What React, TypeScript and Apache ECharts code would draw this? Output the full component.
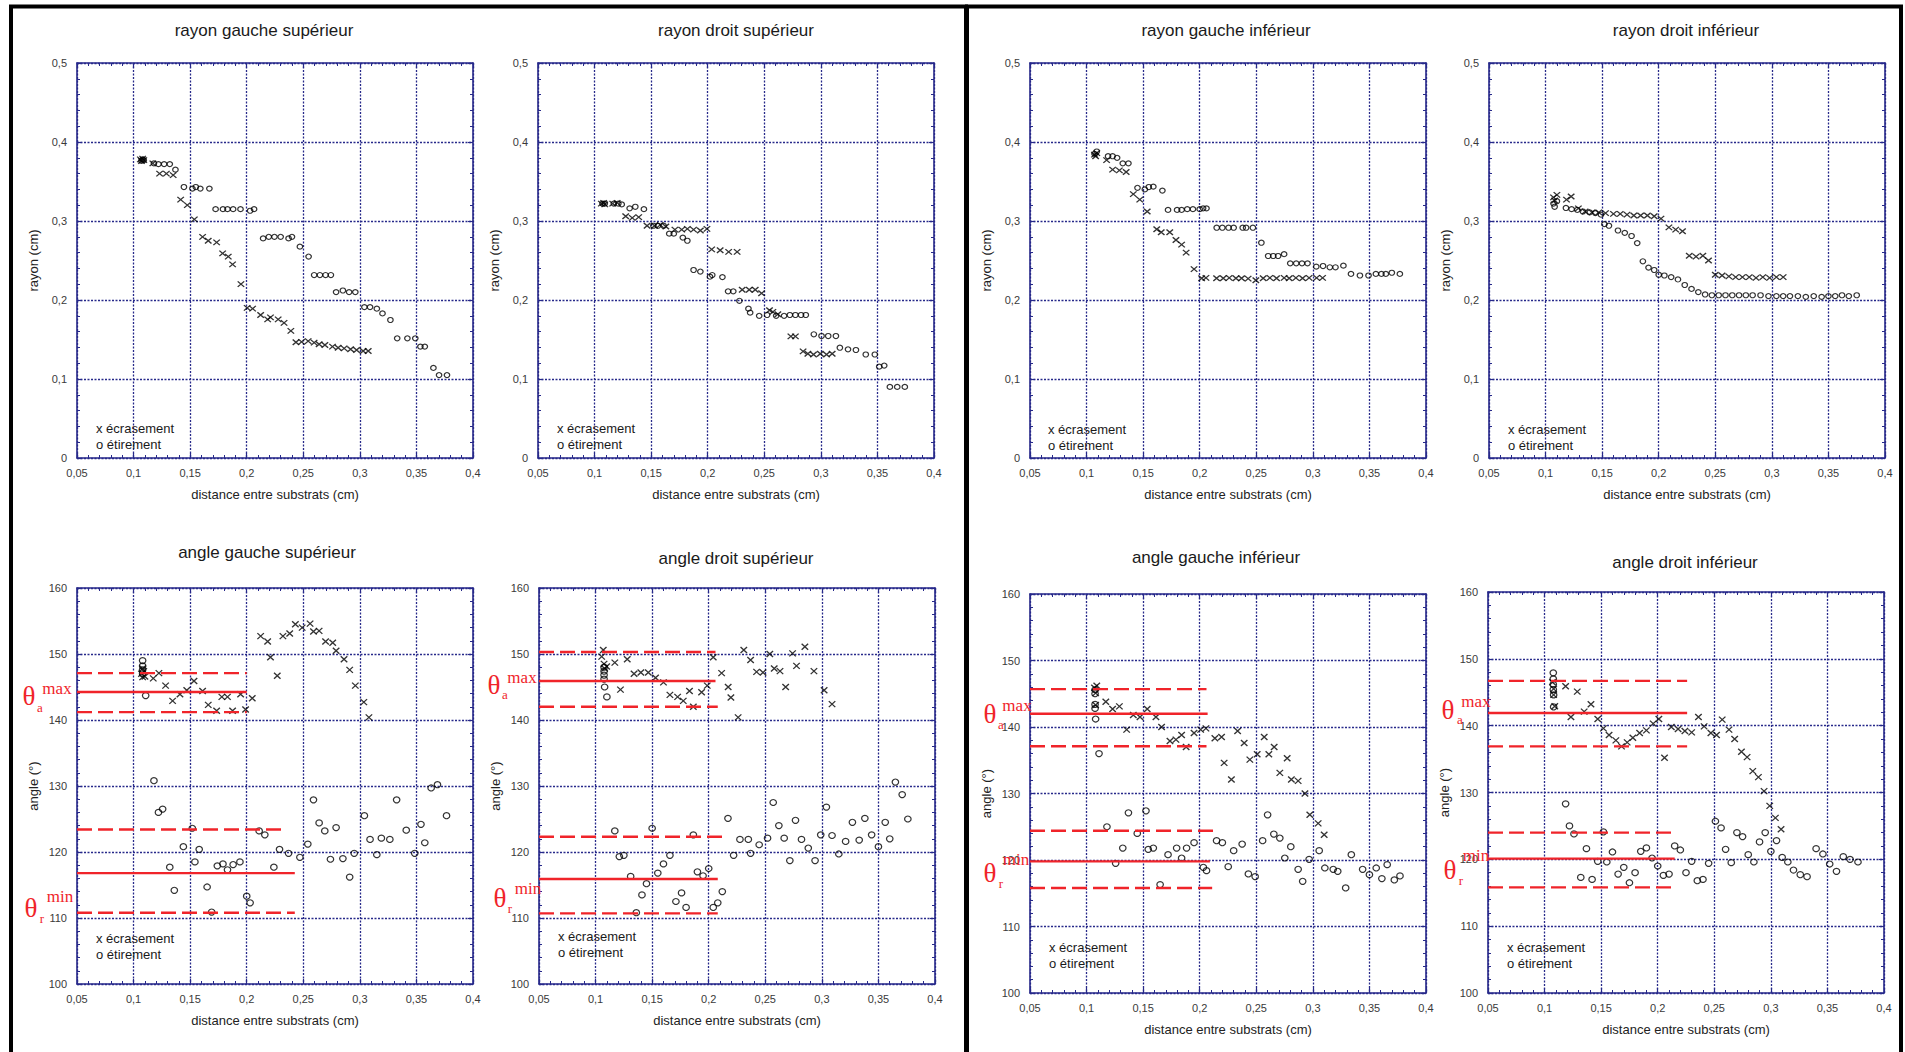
import React, { useEffect, useRef } from "react";
import * as echarts from "echarts";

type P = [number, number];

// ---------- tick / axis texts ----------
const xAxisName = "distance entre substrats (cm)";
const rayonAxisName = "rayon (cm)";
const angleAxisName = "angle (°)";
const legendEcrasement = "x écrasement";
const legendEtirement = "o étirement";
const titles = [
  "rayon gauche supérieur",
  "rayon droit supérieur",
  "rayon gauche inférieur",
  "rayon droit inférieur",
  "angle gauche supérieur",
  "angle droit supérieur",
  "angle gauche inférieur",
  "angle droit inférieur",
];

// ---------- rayon gauche supérieur ----------
const rgsEcrasement: P[] = [[0.106,0.378],[0.107,0.376],[0.108,0.379],[0.109,0.377],[0.117,0.373],[0.123,0.360],[0.129,0.360],[0.135,0.358],[0.1416,0.327],[0.1475,0.320],[0.1537,0.302],[0.161,0.280],[0.166,0.275],[0.1734,0.273],[0.1787,0.259],[0.1837,0.255],[0.1875,0.245],[0.1949,0.220],[0.2004,0.190],[0.2052,0.189],[0.2123,0.181],[0.2185,0.1755],[0.221,0.178],[0.2278,0.1755],[0.233,0.171],[0.239,0.161],[0.2435,0.1465],[0.2485,0.147],[0.2543,0.148],[0.2596,0.146],[0.264,0.144],[0.2691,0.143],[0.2758,0.141],[0.2808,0.1396],[0.2861,0.1388],[0.2918,0.1376],[0.2971,0.1367],[0.3029,0.1354],[0.3074,0.1354]];
const rgsEtirement: P[] = [[0.107,0.376],[0.108,0.378],[0.109,0.377],[0.118,0.373],[0.122,0.372],[0.127,0.372],[0.132,0.372],[0.137,0.365],[0.1445,0.343],[0.152,0.341],[0.155,0.343],[0.159,0.341],[0.167,0.341],[0.1725,0.315],[0.179,0.315],[0.183,0.315],[0.188,0.315],[0.1945,0.315],[0.203,0.313],[0.2065,0.315],[0.2145,0.278],[0.2195,0.280],[0.2245,0.280],[0.230,0.280],[0.237,0.278],[0.240,0.280],[0.247,0.2675],[0.2547,0.255],[0.2596,0.2316],[0.2647,0.2316],[0.2697,0.2316],[0.2744,0.2316],[0.279,0.210],[0.285,0.212],[0.2905,0.210],[0.296,0.210],[0.304,0.191],[0.309,0.191],[0.315,0.189],[0.320,0.183],[0.327,0.1747],[0.333,0.1515],[0.342,0.1515],[0.349,0.1515],[0.3535,0.141],[0.3574,0.141],[0.365,0.114],[0.370,0.105],[0.377,0.105]];

// ---------- rayon droit supérieur ----------
const rdsEcrasement: P[] = [[0.106,0.322],[0.108,0.323],[0.109,0.321],[0.116,0.322],[0.120,0.323],[0.1275,0.306],[0.1333,0.304],[0.139,0.305],[0.1464,0.294],[0.153,0.294],[0.158,0.295],[0.163,0.293],[0.171,0.289],[0.177,0.289],[0.182,0.290],[0.1875,0.289],[0.1935,0.288],[0.1993,0.290],[0.2035,0.264],[0.211,0.263],[0.2185,0.261],[0.226,0.261],[0.2305,0.213],[0.2367,0.213],[0.242,0.213],[0.2476,0.2085],[0.2546,0.187],[0.2576,0.185],[0.262,0.182],[0.2735,0.154],[0.2775,0.154],[0.2843,0.135],[0.2885,0.132],[0.2935,0.131],[0.2995,0.132],[0.305,0.131],[0.310,0.132]];
const rdsEtirement: P[] = [[0.107,0.322],[0.109,0.322],[0.117,0.322],[0.121,0.322],[0.124,0.321],[0.131,0.316],[0.136,0.318],[0.1436,0.315],[0.152,0.294],[0.156,0.294],[0.161,0.294],[0.166,0.284],[0.170,0.284],[0.178,0.279],[0.182,0.275],[0.1875,0.238],[0.1935,0.236],[0.202,0.2295],[0.204,0.2316],[0.213,0.229],[0.218,0.211],[0.2226,0.211],[0.228,0.199],[0.236,0.189],[0.2375,0.184],[0.2455,0.180],[0.2525,0.181],[0.2605,0.180],[0.2675,0.180],[0.2726,0.181],[0.2775,0.181],[0.2825,0.181],[0.2867,0.181],[0.2938,0.1566],[0.3006,0.1544],[0.3065,0.1544],[0.3133,0.1544],[0.3168,0.1396],[0.324,0.1376],[0.331,0.1367],[0.3397,0.131],[0.3477,0.131],[0.3516,0.1156],[0.356,0.117],[0.361,0.090],[0.3675,0.090],[0.3742,0.090]];

// ---------- rayon gauche inférieur ----------
const rgiEcrasement: P[] = [[0.107,0.384],[0.108,0.382],[0.109,0.386],[0.1177,0.377],[0.123,0.365],[0.129,0.364],[0.135,0.362],[0.1413,0.334],[0.147,0.327],[0.1536,0.312],[0.162,0.2895],[0.166,0.2857],[0.1735,0.2857],[0.179,0.276],[0.184,0.270],[0.188,0.260],[0.195,0.239],[0.2017,0.2275],[0.2055,0.228],[0.2149,0.2275],[0.2208,0.2275],[0.2261,0.228],[0.232,0.2275],[0.237,0.2275],[0.2428,0.227],[0.2496,0.225],[0.2561,0.2275],[0.262,0.228],[0.2679,0.2275],[0.2746,0.228],[0.2791,0.2275],[0.285,0.228],[0.2909,0.2275],[0.2967,0.228],[0.3033,0.228],[0.3086,0.228]];
const rgiEtirement: P[] = [[0.107,0.385],[0.109,0.388],[0.119,0.382],[0.123,0.382],[0.127,0.380],[0.132,0.373],[0.137,0.373],[0.145,0.342],[0.1515,0.340],[0.155,0.343],[0.159,0.3435],[0.167,0.3385],[0.172,0.314],[0.180,0.314],[0.184,0.314],[0.189,0.315],[0.194,0.315],[0.200,0.315],[0.203,0.316],[0.206,0.316],[0.215,0.2915],[0.220,0.2915],[0.2255,0.2915],[0.230,0.2915],[0.238,0.2915],[0.241,0.2915],[0.247,0.2915],[0.2545,0.2725],[0.2605,0.2557],[0.265,0.2557],[0.2693,0.2557],[0.2746,0.258],[0.280,0.2464],[0.2853,0.2464],[0.2904,0.2464],[0.2953,0.2464],[0.303,0.2422],[0.309,0.243],[0.315,0.2414],[0.320,0.2414],[0.327,0.2435],[0.3337,0.233],[0.3416,0.231],[0.3492,0.231],[0.3557,0.233],[0.3606,0.233],[0.3645,0.233],[0.3698,0.2345],[0.3769,0.233]];

// ---------- rayon droit inférieur ----------
const rdiEcrasement: P[] = [[0.107,0.330],[0.108,0.326],[0.110,0.333],[0.1185,0.327],[0.1226,0.331],[0.129,0.316],[0.135,0.312],[0.141,0.311],[0.147,0.311],[0.153,0.310],[0.160,0.309],[0.166,0.309],[0.172,0.308],[0.178,0.307],[0.184,0.307],[0.190,0.307],[0.196,0.306],[0.202,0.303],[0.209,0.292],[0.215,0.289],[0.221,0.287],[0.227,0.256],[0.233,0.255],[0.239,0.256],[0.244,0.250],[0.250,0.232],[0.256,0.231],[0.262,0.230],[0.268,0.229],[0.274,0.229],[0.280,0.229],[0.286,0.228],[0.292,0.229],[0.298,0.228],[0.304,0.229],[0.310,0.229]];
const rdiEtirement: P[] = [[0.107,0.322],[0.108,0.318],[0.110,0.325],[0.118,0.3165],[0.123,0.315],[0.128,0.314],[0.133,0.312],[0.139,0.311],[0.144,0.310],[0.149,0.308],[0.152,0.296],[0.156,0.294],[0.164,0.288],[0.170,0.285],[0.176,0.281],[0.181,0.272],[0.186,0.249],[0.191,0.241],[0.196,0.238],[0.200,0.232],[0.205,0.231],[0.211,0.229],[0.217,0.226],[0.223,0.219],[0.229,0.214],[0.235,0.210],[0.241,0.207],[0.247,0.206],[0.253,0.206],[0.259,0.206],[0.265,0.206],[0.271,0.206],[0.277,0.206],[0.283,0.206],[0.290,0.206],[0.297,0.205],[0.304,0.205],[0.310,0.205],[0.316,0.205],[0.323,0.205],[0.330,0.204],[0.337,0.205],[0.344,0.204],[0.350,0.205],[0.356,0.205],[0.362,0.206],[0.368,0.205],[0.375,0.206]];

// ---------- angle gauche supérieur ----------
const agsEcrasement: P[] = [[0.107,147.0],[0.108,147.8],[0.108,146.5],[0.109,147.4],[0.110,146.6],[0.1174,146.3],[0.1224,147.1],[0.1283,145.2],[0.1345,142.9],[0.141,143.9],[0.147,144.5],[0.1534,145.9],[0.161,144.4],[0.166,142.3],[0.1734,141.4],[0.178,143.5],[0.183,143.5],[0.1875,141.4],[0.1946,143.9],[0.199,141.6],[0.2049,143.3],[0.2123,152.7],[0.2185,151.9],[0.221,149.5],[0.227,146.7],[0.232,152.7],[0.238,153.1],[0.243,154.5],[0.249,154.0],[0.256,154.6],[0.259,153.4],[0.264,153.5],[0.2697,151.9],[0.276,151.7],[0.279,150.5],[0.286,149.2],[0.291,147.6],[0.296,145.2],[0.3035,142.7],[0.308,140.4]];
const agsEtirement: P[] = [[0.108,149.0],[0.108,148.2],[0.108,147.6],[0.108,147.0],[0.1107,143.7],[0.118,130.8],[0.122,126.0],[0.1257,126.5],[0.132,117.7],[0.136,114.2],[0.144,120.8],[0.1519,123.6],[0.1542,118.5],[0.158,120.4],[0.165,114.7],[0.169,110.9],[0.174,117.9],[0.179,118.2],[0.183,117.3],[0.188,118.1],[0.194,118.5],[0.200,113.3],[0.203,112.3],[0.211,123.2],[0.216,122.6],[0.224,117.7],[0.229,120.4],[0.237,119.8],[0.247,119.2],[0.254,121.2],[0.259,127.9],[0.264,124.4],[0.269,123.2],[0.274,118.9],[0.279,123.7],[0.285,119.0],[0.291,116.2],[0.295,119.8],[0.304,125.5],[0.309,121.9],[0.315,119.6],[0.319,122.1],[0.3265,121.9],[0.3325,127.9],[0.341,123.3],[0.3485,119.8],[0.354,124.2],[0.3574,121.4],[0.363,129.7],[0.3686,130.2],[0.3766,125.5]];

// ---------- angle droit supérieur ----------
const adsEcrasement: P[] = [[0.1054,149.6],[0.1068,150.6],[0.1075,148.5],[0.108,147.8],[0.1098,148.1],[0.117,148.7],[0.122,144.6],[0.128,149.2],[0.134,147.0],[0.140,147.2],[0.1466,147.2],[0.153,146.4],[0.160,145.7],[0.1657,143.8],[0.1725,143.5],[0.1775,142.9],[0.183,144.4],[0.1864,142.0],[0.1937,144.2],[0.1987,145.2],[0.204,149.5],[0.2114,147.1],[0.2172,145.0],[0.2196,143.4],[0.226,140.4],[0.231,150.6],[0.237,149.1],[0.2423,147.3],[0.248,147.2],[0.254,150.0],[0.2579,147.8],[0.263,147.4],[0.268,145.0],[0.2741,150.1],[0.2776,148.2],[0.285,151.1],[0.293,147.4],[0.302,144.5],[0.309,142.4]];
const adsEtirement: P[] = [[0.1075,148.0],[0.1075,147.4],[0.1075,146.8],[0.1075,146.2],[0.108,145.0],[0.110,143.5],[0.117,123.2],[0.121,119.3],[0.125,119.5],[0.131,116.3],[0.136,110.8],[0.141,113.5],[0.145,115.2],[0.150,123.6],[0.155,116.8],[0.160,118.2],[0.1657,119.5],[0.171,112.5],[0.176,113.8],[0.180,111.6],[0.1864,122.6],[0.190,117.0],[0.195,116.4],[0.200,117.5],[0.204,111.6],[0.208,112.3],[0.212,114.0],[0.217,125.1],[0.222,119.5],[0.2276,121.9],[0.235,121.9],[0.237,119.8],[0.2446,121.1],[0.252,122.1],[0.257,127.5],[0.262,124.0],[0.2667,122.1],[0.2717,118.7],[0.2767,124.8],[0.282,121.9],[0.288,120.6],[0.294,118.7],[0.299,122.6],[0.304,126.8],[0.309,122.5],[0.315,119.7],[0.321,121.6],[0.327,124.5],[0.333,121.8],[0.338,125.1],[0.344,122.6],[0.350,120.8],[0.356,124.5],[0.360,122.0],[0.365,130.6],[0.371,128.7],[0.376,125.0]];

// ---------- angle gauche inférieur ----------
const agiEcrasement: P[] = [[0.107,145.9],[0.108,145.1],[0.108,143.3],[0.109,146.2],[0.117,143.8],[0.123,142.7],[0.129,143.1],[0.1354,139.6],[0.1413,141.8],[0.1472,141.5],[0.1536,142.7],[0.1613,141.5],[0.1663,140.0],[0.1737,137.9],[0.179,138.1],[0.184,138.8],[0.188,137.0],[0.195,139.1],[0.2008,139.6],[0.2055,139.8],[0.2134,138.3],[0.2193,138.5],[0.2216,134.6],[0.228,132.1],[0.2335,139.4],[0.2393,137.6],[0.2443,135.1],[0.2508,135.9],[0.257,138.5],[0.2611,135.9],[0.2658,137.0],[0.2708,133.1],[0.2773,135.3],[0.281,132.1],[0.287,131.9],[0.293,130.0],[0.2973,126.8],[0.3047,125.5],[0.310,123.8]];
const agiEtirement: P[] = [[0.1075,145.6],[0.1075,145.0],[0.1075,143.4],[0.1075,142.8],[0.108,141.2],[0.111,136.0],[0.118,125.0],[0.1257,119.5],[0.132,121.8],[0.137,127.1],[0.1448,124.0],[0.1525,127.4],[0.1545,121.6],[0.159,121.8],[0.165,116.3],[0.172,120.8],[0.1796,121.8],[0.184,120.3],[0.1884,121.8],[0.195,122.6],[0.2032,118.9],[0.206,118.4],[0.2149,122.9],[0.220,122.6],[0.2252,119.0],[0.230,121.4],[0.2375,122.4],[0.243,117.9],[0.249,117.5],[0.2556,122.9],[0.260,126.8],[0.2655,123.9],[0.2708,123.3],[0.2752,120.3],[0.2805,122.0],[0.287,118.6],[0.291,116.8],[0.2967,120.1],[0.3056,121.4],[0.3106,118.8],[0.318,118.6],[0.322,118.3],[0.329,115.8],[0.334,120.8],[0.344,118.6],[0.350,117.8],[0.356,118.8],[0.361,117.2],[0.3657,119.3],[0.372,117.0],[0.377,117.6]];

// ---------- angle droit inférieur ----------
const adiEcrasement: P[] = [[0.107,146.5],[0.108,145.5],[0.108,144.6],[0.109,142.9],[0.1186,145.9],[0.1233,141.3],[0.1289,145.1],[0.135,142.1],[0.141,143.2],[0.147,141.0],[0.152,139.6],[0.157,138.6],[0.163,137.8],[0.168,136.9],[0.173,137.5],[0.178,138.2],[0.184,138.9],[0.190,139.3],[0.196,140.3],[0.201,141.0],[0.206,135.2],[0.212,139.8],[0.218,139.5],[0.224,139.2],[0.230,139.0],[0.236,141.3],[0.241,139.9],[0.247,138.9],[0.252,138.6],[0.257,140.9],[0.263,139.4],[0.268,138.0],[0.274,136.1],[0.279,135.3],[0.284,133.2],[0.289,132.3],[0.294,130.2],[0.299,128.0],[0.304,126.2],[0.309,124.5]];
const adiEtirement: P[] = [[0.1077,147.9],[0.1077,147.0],[0.1077,146.2],[0.1077,145.4],[0.108,144.6],[0.108,142.8],[0.1186,128.3],[0.122,125.0],[0.126,123.8],[0.132,117.3],[0.137,121.6],[0.142,117.0],[0.147,119.7],[0.152,124.1],[0.155,119.6],[0.160,121.1],[0.165,117.8],[0.170,118.8],[0.175,116.5],[0.180,118.0],[0.185,121.2],[0.190,121.7],[0.195,120.2],[0.200,119.0],[0.205,117.6],[0.210,117.8],[0.215,122.0],[0.220,121.4],[0.225,118.0],[0.230,119.7],[0.235,116.8],[0.240,117.0],[0.245,119.4],[0.251,125.7],[0.256,124.7],[0.260,121.5],[0.265,119.5],[0.270,124.0],[0.275,123.4],[0.280,120.7],[0.285,119.6],[0.290,122.6],[0.295,124.0],[0.300,121.2],[0.305,122.8],[0.310,120.3],[0.315,119.6],[0.320,118.4],[0.326,117.7],[0.332,117.4],[0.340,121.6],[0.346,120.8],[0.352,119.3],[0.358,118.2],[0.364,120.4],[0.370,120.0],[0.377,119.6]];

// ---------- red reference lines: [angle, x end, dashed(1)/solid(0)] ----------
const agsLimits: [number, number, number][] = [[147.1, 0.2, 1], [144.25, 0.2, 0], [141.2, 0.2, 1], [123.4, 0.2355, 1], [116.8, 0.2425, 0], [110.8, 0.2425, 1]];
const adsLimits: [number, number, number][] = [[150.3, 0.206, 1], [145.9, 0.206, 0], [142.0, 0.208, 1], [122.3, 0.2125, 1], [115.9, 0.208, 0], [110.7, 0.208, 1]];
const agiLimits: [number, number, number][] = [[145.7, 0.206, 1], [142.0, 0.207, 0], [137.1, 0.206, 1], [124.4, 0.212, 1], [119.8, 0.209, 0], [115.8, 0.211, 1]];
const adiLimits: [number, number, number][] = [[146.7, 0.226, 1], [141.9, 0.226, 0], [136.9, 0.226, 1], [124.0, 0.215, 1], [120.1, 0.215, 0], [115.8, 0.215, 1]];

const NAVY = "#27298a";
const RED = "#f0242a";
const SANS = '"Liberation Sans", Arial, Helvetica, sans-serif';
const SERIF = '"Liberation Serif", "Times New Roman", serif';

const fmt = (v: number) => String(Math.round(v * 1000) / 1000).replace(".", ",");

type PlotCfg = {
  kind: "r" | "a";
  grid: { left: number; top: number; width: number; height: number };
  ecr: P[];
  eti: P[];
  limits?: [number, number, number][];
  titleX: number;
  titleY: number;
  legX: number;
  legY: number;
};

const plots: PlotCfg[] = [
  { kind: "r", grid: { left: 77, top: 63, width: 396, height: 395 }, ecr: rgsEcrasement, eti: rgsEtirement, titleX: 264, titleY: 30, legX: 96, legY: 428 },
  { kind: "r", grid: { left: 538, top: 63, width: 396, height: 395 }, ecr: rdsEcrasement, eti: rdsEtirement, titleX: 736, titleY: 30, legX: 557, legY: 428 },
  { kind: "r", grid: { left: 1030, top: 63, width: 396, height: 395 }, ecr: rgiEcrasement, eti: rgiEtirement, titleX: 1226, titleY: 30, legX: 1048, legY: 429 },
  { kind: "r", grid: { left: 1489, top: 63, width: 396, height: 395 }, ecr: rdiEcrasement, eti: rdiEtirement, titleX: 1686, titleY: 30, legX: 1508, legY: 429 },
  { kind: "a", grid: { left: 77, top: 588, width: 396, height: 396 }, ecr: agsEcrasement, eti: agsEtirement, limits: agsLimits, titleX: 267, titleY: 552, legX: 96, legY: 938 },
  { kind: "a", grid: { left: 539, top: 588, width: 396, height: 396 }, ecr: adsEcrasement, eti: adsEtirement, limits: adsLimits, titleX: 736, titleY: 558, legX: 558, legY: 936 },
  { kind: "a", grid: { left: 1030, top: 594, width: 396, height: 399 }, ecr: agiEcrasement, eti: agiEtirement, limits: agiLimits, titleX: 1216, titleY: 557, legX: 1049, legY: 947 },
  { kind: "a", grid: { left: 1488, top: 592, width: 396, height: 401 }, ecr: adiEcrasement, eti: adiEtirement, limits: adiLimits, titleX: 1685, titleY: 562, legX: 1507, legY: 947 },
];

// θ labels: [θ x, θ y, sub x, sub y, sup x, sup y, sub, sup]
const thetaLabels: [number, number, number, number, number, number, string, string][] = [
  [29, 696, 40, 707, 57, 688, "a", "max"],
  [31, 908, 42, 918, 60, 896, "r", "min"],
  [494, 685, 505, 694, 522, 677, "a", "max"],
  [500, 898, 510, 908, 528, 888, "r", "min"],
  [990, 714, 1001, 724, 1017, 705, "a", "max"],
  [990, 873, 1001, 883, 1016, 859, "r", "min"],
  [1448, 710, 1460, 719, 1476, 701, "a", "max"],
  [1450, 870, 1461, 880, 1476, 855, "r", "min"],
];

function axisCommon() {
  return {
    axisLine: { show: true, onZero: false, lineStyle: { color: NAVY, width: 1.6 } },
    axisTick: { show: true, inside: true, length: 5, lineStyle: { color: NAVY, width: 1.2 } },
    minorTick: { show: true, splitNumber: 5, length: 3, lineStyle: { color: NAVY, width: 1 } },
  };
}

function buildOption() {
  const grid: any[] = [];
  const xAxis: any[] = [];
  const yAxis: any[] = [];
  const series: any[] = [];
  const graphic: any[] = [];

  plots.forEach((p, i) => {
    grid.push({ ...p.grid, containLabel: false });
    const isR = p.kind === "r";
    const yMin = isR ? 0 : 100;
    const yMax = isR ? 0.5 : 160;
    const yInt = isR ? 0.1 : 10;
    xAxis.push({
      gridIndex: i, type: "value", min: 0.05, max: 0.4, interval: 0.05, position: "bottom",
      ...axisCommon(),
      splitLine: { show: true, lineStyle: { color: NAVY, type: [2, 1.5], width: 1.3 } },
      axisLabel: { formatter: fmt, fontSize: 11, color: "#3a3a3a", margin: 9, fontFamily: SANS },
      name: xAxisName, nameLocation: "middle", nameGap: 30,
      nameTextStyle: { fontSize: 13, color: "#222", fontFamily: SANS },
    });
    xAxis.push({
      gridIndex: i, type: "value", min: 0.05, max: 0.4, interval: 0.05, position: "top",
      ...axisCommon(), splitLine: { show: false }, axisLabel: { show: false },
    });
    yAxis.push({
      gridIndex: i, type: "value", min: yMin, max: yMax, interval: yInt, position: "left",
      ...axisCommon(),
      splitLine: { show: true, lineStyle: { color: NAVY, type: [2, 1.5], width: 1.3 } },
      axisLabel: { formatter: fmt, fontSize: 11, color: "#3a3a3a", margin: 10, fontFamily: SANS },
      name: isR ? rayonAxisName : angleAxisName, nameLocation: "middle", nameGap: 37, nameRotate: 90,
      nameTextStyle: { fontSize: 13, color: "#222", fontFamily: SANS },
    });
    yAxis.push({
      gridIndex: i, type: "value", min: yMin, max: yMax, interval: yInt, position: "right",
      ...axisCommon(), splitLine: { show: false }, axisLabel: { show: false },
    });

    const xi = i * 2;
    const sz = isR ? [6.5, 5.5] : [6.5, 6];
    const cs = isR ? [5.5, 5] : [6.5, 6];
    series.push({
      type: "scatter", name: legendEcrasement, xAxisIndex: xi, yAxisIndex: xi, data: p.ecr,
      symbol: "path://M0,0L10,10M10,0L0,10", symbolSize: sz,
      itemStyle: { color: "transparent", borderColor: "#000", borderWidth: 1.3 }, z: 3,
    });
    series.push({
      type: "scatter", name: legendEtirement, xAxisIndex: xi, yAxisIndex: xi, data: p.eti,
      symbol: "circle", symbolSize: cs,
      itemStyle: { color: "transparent", borderColor: "#000", borderWidth: 1.2 }, z: 3,
    });
    if (p.limits) {
      p.limits.forEach(([y, xe, dashed]) => {
        series.push({
          type: "line", xAxisIndex: xi, yAxisIndex: xi, data: [[0.05, y], [xe, y]],
          symbol: "none", silent: true, z: 4,
          lineStyle: { color: RED, width: 2.4, type: dashed ? [15, 6] : "solid" },
        });
      });
    }

    graphic.push({
      type: "text", x: p.titleX, y: p.titleY,
      style: { text: titles[i], fill: "#1a1a1a", font: `17px ${SANS}`, align: "center", verticalAlign: "middle", textAlign: "center", textVerticalAlign: "middle" },
    });
    graphic.push({
      type: "text", x: p.legX, y: p.legY,
      style: { text: legendEcrasement, fill: "#1a1a1a", font: `13px ${SANS}`, align: "left", verticalAlign: "middle", textAlign: "left", textVerticalAlign: "middle" },
      z: 10,
    });
    graphic.push({
      type: "text", x: p.legX, y: p.legY + 16,
      style: { text: legendEtirement, fill: "#1a1a1a", font: `13px ${SANS}`, align: "left", verticalAlign: "middle", textAlign: "left", textVerticalAlign: "middle" },
      z: 10,
    });
  });

  thetaLabels.forEach(([tx, ty, sx, sy, px, py, sub, sup]) => {
    const mk = (text: string, x: number, y: number, size: number) => ({
      type: "text", x, y, z: 20,
      style: { text, fill: RED, font: `${size}px ${SERIF}`, align: "center", verticalAlign: "middle", textAlign: "center", textVerticalAlign: "middle" },
    });
    graphic.push(mk("θ", tx, ty, 27));
    graphic.push(mk(sub, sx, sy, 13));
    graphic.push(mk(sup, px, py, 17));
  });

  // panel frames
  graphic.push({ type: "rect", shape: { x: 11, y: 6.5, width: 955, height: 1120 }, style: { fill: "none", stroke: "#000", lineWidth: 4 }, z: 30 });
  graphic.push({ type: "rect", shape: { x: 967, y: 6.5, width: 934, height: 1120 }, style: { fill: "none", stroke: "#000", lineWidth: 4 }, z: 30 });

  return {
    animation: false,
    backgroundColor: "#ffffff",
    textStyle: { fontFamily: SANS },
    grid, xAxis, yAxis, series, graphic,
  };
}

export default function App() {
  const ref = useRef<HTMLDivElement>(null);
  useEffect(() => {
    if (!ref.current) return;
    const chart = echarts.init(ref.current, undefined, { renderer: "svg", width: 1905, height: 1052 });
    chart.setOption(buildOption() as any);
    return () => chart.dispose();
  }, []);
  return (
    <div
      ref={ref}
      style={{ position: "fixed", left: 0, top: 0, width: 1905, height: 1052, background: "#fff" }}
    />
  );
}
